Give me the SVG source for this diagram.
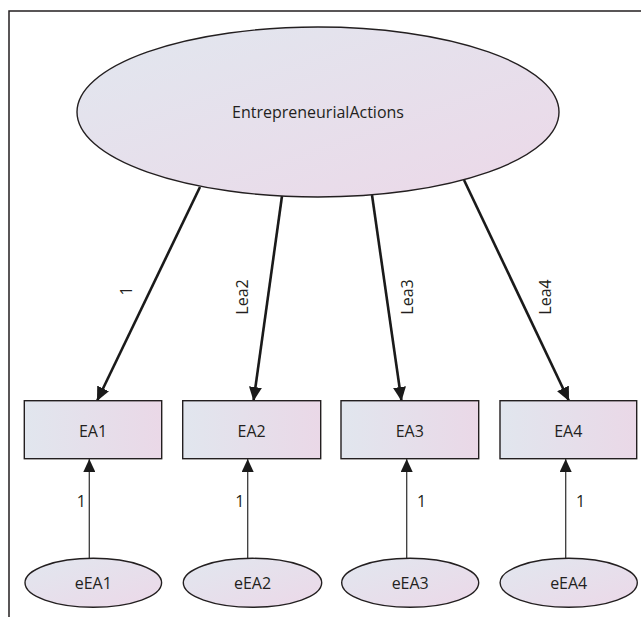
<svg xmlns="http://www.w3.org/2000/svg" width="641" height="617" viewBox="0 0 641 617">
<defs>
<linearGradient id="gEll" x1="0" y1="0" x2="1" y2="1">
<stop offset="0" stop-color="#e1e7ef"/>
<stop offset="1" stop-color="#ecd8e8"/>
</linearGradient>
<linearGradient id="gRect" x1="0" y1="0" x2="1" y2="0">
<stop offset="0" stop-color="#e1e6ee"/>
<stop offset="1" stop-color="#ead8e7"/>
</linearGradient>
<marker id="bigHead" markerUnits="userSpaceOnUse" markerWidth="14" markerHeight="13" viewBox="0 0 14 13" refX="14" refY="6.5" orient="auto">
<path d="M0,0 L14,6.5 L0,13 Z" fill="#1a1a1a"/>
</marker>
<marker id="smallHead" markerUnits="userSpaceOnUse" markerWidth="13" markerHeight="12" viewBox="0 0 13 12" refX="13" refY="6" orient="auto">
<path d="M0,0 L13,6 L0,12 Z" fill="#1a1a1a"/>
</marker>
</defs>
<style>
.node{stroke:#231f20;stroke-width:1.4}
.ell{fill:url(#gEll)}
.box{fill:url(#gRect)}
text{font-family:"Open Sans","Noto Sans","Liberation Sans",sans-serif;font-size:16px;fill:#231f20}
.c{text-anchor:middle}
.big{stroke:#1a1a1a;stroke-width:2.6;fill:none;marker-end:url(#bigHead)}
.thin{stroke:#3a3a3a;stroke-width:1.3;fill:none;marker-end:url(#smallHead)}
.frame{stroke:#231f20;stroke-width:1.5;fill:none}
</style>
<path class="frame" d="M641,11 L9,11 L9,617"/>
<g id="connectors">
<line class="big" x1="200" y1="187" x2="97" y2="401"/>
<line class="big" x1="282" y1="196" x2="253.5" y2="401"/>
<line class="big" x1="372" y1="195" x2="401.5" y2="401"/>
<line class="big" x1="464" y1="180" x2="569" y2="401"/>
<line class="thin" x1="89.3" y1="558" x2="89.3" y2="459"/>
<line class="thin" x1="247.7" y1="558" x2="247.7" y2="459"/>
<line class="thin" x1="406.7" y1="558" x2="406.7" y2="459"/>
<line class="thin" x1="565.7" y1="558" x2="565.7" y2="459"/>
<text class="c" transform="translate(131.5,291) rotate(-90)">1</text>
<text class="c" transform="translate(248,297) rotate(-90)">Lea2</text>
<text class="c" transform="translate(413,297) rotate(-90)">Lea3</text>
<text class="c" transform="translate(551,297) rotate(-90)">Lea4</text>
<text x="86" y="507" text-anchor="end">1</text>
<text x="244.5" y="507" text-anchor="end">1</text>
<text x="417" y="507">1</text>
<text x="576" y="507">1</text>
</g>
<g id="EntrepreneurialActions">
<ellipse class="node ell" cx="318" cy="112" rx="241" ry="85"/>
<text class="c" x="318" y="117.5">EntrepreneurialActions</text>
</g>
<g id="EA1">
<rect class="node box" x="24.3" y="400.7" width="137.4" height="58"/>
<text class="c" x="93" y="436.5">EA1</text>
</g>
<g id="EA2">
<rect class="node box" x="182.7" y="400.7" width="138" height="58"/>
<text class="c" x="251.7" y="436.5">EA2</text>
</g>
<g id="EA3">
<rect class="node box" x="341" y="400.7" width="137.7" height="58"/>
<text class="c" x="409.8" y="436.5">EA3</text>
</g>
<g id="EA4">
<rect class="node box" x="500" y="400.7" width="136.7" height="58"/>
<text class="c" x="568.3" y="436.5">EA4</text>
</g>
<g id="eEA1">
<ellipse class="node ell" cx="93.3" cy="582.8" rx="68.3" ry="24.5"/>
<text class="c" x="93.3" y="588.5">eEA1</text>
</g>
<g id="eEA2">
<ellipse class="node ell" cx="252.5" cy="582.8" rx="69.2" ry="24.5"/>
<text class="c" x="252.5" y="588.5">eEA2</text>
</g>
<g id="eEA3">
<ellipse class="node ell" cx="410.2" cy="582.8" rx="68.5" ry="24.5"/>
<text class="c" x="410.2" y="588.5">eEA3</text>
</g>
<g id="eEA4">
<ellipse class="node ell" cx="568.7" cy="582.8" rx="68.6" ry="24.5"/>
<text class="c" x="568.7" y="588.5">eEA4</text>
</g>
</svg>
